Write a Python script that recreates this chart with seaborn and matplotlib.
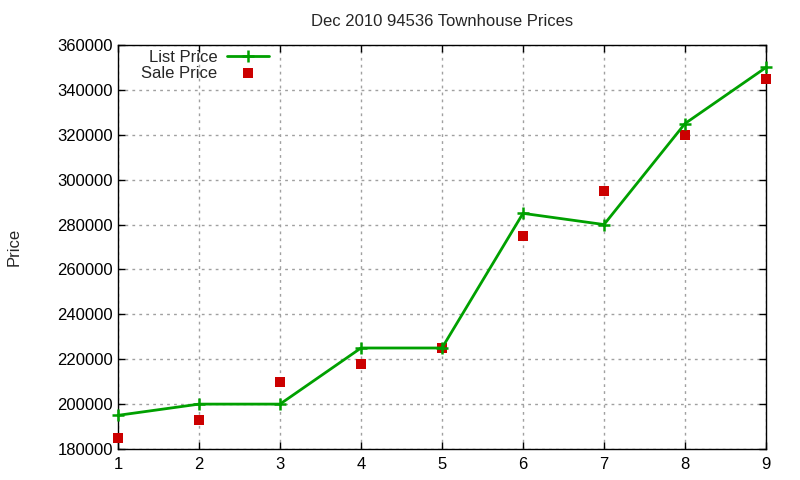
import matplotlib
matplotlib.use("Agg")
import matplotlib.pyplot as plt
import seaborn as sns
import pandas as pd

months = [1, 2, 3, 4, 5, 6, 7, 8, 9]
list_price = [195000, 200000, 200000, 225000, 225000, 285000, 280000, 325000, 350000]
sale_price = [185000, 193000, 210000, 218000, 225000, 275000, 295000, 320000, 345000]
y_ticks = [180000, 200000, 220000, 240000, 260000, 280000, 300000, 320000, 340000, 360000]

df = pd.DataFrame({"x": months, "list": list_price, "sale": sale_price})

sns.set_theme(style="white")
plt.rcParams['font.family'] = ['Liberation Sans', 'DejaVu Sans']

fig = plt.figure(figsize=(8, 4.8), dpi=100)
ax = fig.add_axes([118/800, 31/480, (766-118)/800, (449-45)/480])

sns.lineplot(data=df, x="x", y="list", ax=ax, color="#00a000", linewidth=2,
             marker="+", markersize=9, markeredgewidth=1.8, markeredgecolor="#00a000",
             label="List Price", clip_on=False, zorder=4)
sns.scatterplot(data=df, x="x", y="sale", ax=ax, color="#cc0000", marker="s", s=50,
                linewidth=0, label="Sale Price", zorder=3, clip_on=False)

ax.set_xlim(1, 9)
ax.set_ylim(180000, 360000)
ax.set_xticks(months)
ax.set_yticks(y_ticks)
ax.set_xticklabels([str(m) for m in months])
ax.set_yticklabels([str(t) for t in y_ticks])
ax.tick_params(direction="in", top=True, right=True, length=5, width=1, labelsize=12,
               colors="black", bottom=True, left=True)
ax.tick_params(axis="x", pad=6)
for s in ax.spines.values():
    s.set_color("black")
    s.set_linewidth(1)
ax.grid(True, linestyle=(0, (2, 3)), color="#a0a0a0", linewidth=1)
ax.set_axisbelow(True)

ax.set_xlabel("")
ax.set_ylabel("Price", fontsize=12, labelpad=26)
ax.set_title("Dec 2010 94536 Townhouse Prices", fontsize=12, pad=14)

leg = ax.legend(loc="upper left", bbox_to_anchor=(0.018, 1.017), frameon=False, markerfirst=False,
                fontsize=12, handlelength=2.5, handletextpad=0.6, labelspacing=0.05,
                borderaxespad=0.3)
for t in leg.get_texts():
    t.set_ha("right")

fig.savefig("out.png", dpi=100)
